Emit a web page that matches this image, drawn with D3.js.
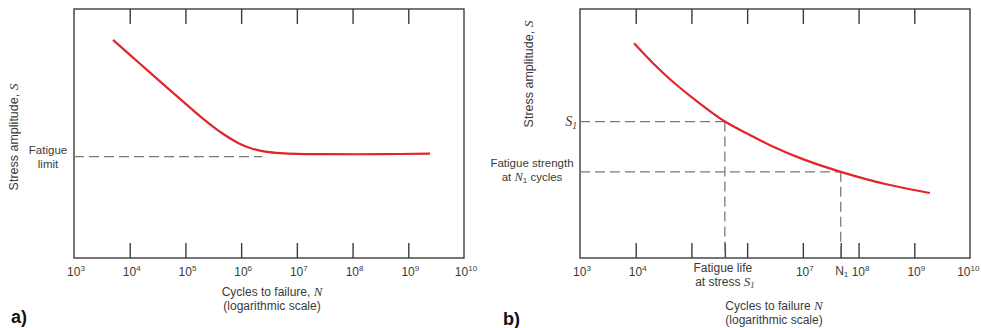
<!DOCTYPE html>
<html>
<head>
<meta charset="utf-8">
<script src="https://cdn.jsdelivr.net/npm/d3@7"></script>
<style>
  html, body { margin: 0; padding: 0; background: #fff; }
  svg { display: block; }
  text { font-family: "Liberation Sans", Arial, sans-serif; fill: #3a3a3a; }
  .it { font-family: "Liberation Serif", "Times New Roman", serif; font-style: italic; }
</style>
</head>
<body>
<svg id="chart" width="981" height="328"></svg>
<script>
// Decade exponents along the cycles axis
const decadeLabelsA = [3, 4, 5, 6, 7, 8, 9, 10];
const decadeLabelsB = [3, 4, 7, 8, 9, 10];
const innerTickExps = [4, 5, 6, 7, 8, 9];

// (a) S–N curve with an endurance (fatigue) limit: log10 N and stress amplitude S
const curveA_logN = [3.70, 4.20, 4.66, 5.00, 5.26, 5.50, 5.70, 5.85, 6.00, 6.16, 6.30, 6.46, 6.70, 7.00, 7.50, 8.50, 9.39];
const curveA_S    = [87.6, 77.7, 68.6, 62.0, 57.0, 52.7, 49.5, 47.4, 45.6, 44.2, 43.3, 42.6, 42.1, 41.8, 41.7, 41.7, 41.9];
const fatigueLimitA = 40.7;
const fatigueLimitEndLogN = 6.38;

// (b) S–N curve without a fatigue limit
const curveB_logN = [3.97, 4.32, 4.62, 5.10, 5.60, 6.00, 6.40, 7.00, 7.68, 8.50, 9.28];
const curveB_S    = [86.2, 78.0, 71.7, 62.9, 54.8, 50.0, 45.4, 39.7, 34.6, 29.6, 26.1];
const stressS1 = 54.8, lifeAtS1LogN = 5.60;
const strengthAtN1 = 34.6, n1LogN = 7.68;

const W = 981;
const svg = d3.select("#chart");
const RED = "#e3242b", FRAME = "#3c3c3c", DASH = "#7a7a7a";

const y = d3.scaleLinear().domain([0, 100]).range([258, 9]);
const xA = d3.scaleLog().domain([1e3, 1e10]).range([74, 464]);
const xB = d3.scaleLog().domain([1e3, 1e10]).range([580, 970]);
const p10 = e => Math.pow(10, e);

function frame(x) {
  const [x0, x1] = x.range(), [y0, y1] = [y.range()[1], y.range()[0]];
  svg.append("rect").attr("x", x0).attr("y", y0).attr("width", x1 - x0).attr("height", y1 - y0)
    .attr("fill", "none").attr("stroke", FRAME).attr("stroke-width", 1.4);
}

function innerTicks(x, bottomExps) {
  // top ticks hang down from the upper edge
  const top = svg.append("g").attr("transform", `translate(0,${y.range()[1]})`)
    .call(d3.axisTop(x).tickValues(innerTickExps.map(p10)).tickSize(-15).tickFormat(""));
  // bottom ticks rise from the lower edge
  const bot = svg.append("g").attr("transform", `translate(0,${y.range()[0]})`)
    .call(d3.axisBottom(x).tickValues(bottomExps.map(p10)).tickSize(-15).tickFormat(""));
  [top, bot].forEach(g => {
    g.select(".domain").remove();
    g.selectAll("line").attr("stroke", FRAME).attr("stroke-width", 1.4);
  });
}

function decadeLabels(x, exps) {
  const t = svg.append("g").selectAll("text").data(exps).join("text")
    .attr("x", d => x(p10(d)) + 2).attr("y", 276)
    .attr("text-anchor", "middle").attr("font-size", 12);
  t.append("tspan").text("10");
  t.append("tspan").attr("dy", -5).attr("font-size", 8).text(d => d);
  // keep the outermost label inside the drawing area
  t.each(function () {
    const b = this.getBBox();
    if (b.x + b.width > W - 1) d3.select(this).attr("x", +this.getAttribute("x") - (b.x + b.width - W + 1));
  });
}

const line = x => d3.line().x(d => x(p10(d[0]))).y(d => y(d[1])).curve(d3.curveCatmullRom.alpha(0.5));

function dashed(x1, y1, x2, y2) {
  svg.append("line").attr("x1", x1).attr("y1", y1).attr("x2", x2).attr("y2", y2)
    .attr("stroke", DASH).attr("stroke-width", 1.3).attr("stroke-dasharray", "10,5");
}

function yTitle(cx, cy) {
  const t = svg.append("text").attr("transform", `translate(${cx},${cy}) rotate(-90)`)
    .attr("text-anchor", "middle").attr("font-size", 12.5);
  t.append("tspan").text("Stress amplitude, ");
  t.append("tspan").attr("class", "it").attr("font-size", 13.5).text("S");
}

// ---------- panel (a) ----------
frame(xA);
innerTicks(xA, innerTickExps);
decadeLabels(xA, decadeLabelsA);
dashed(xA.range()[0], y(fatigueLimitA), xA(p10(fatigueLimitEndLogN)), y(fatigueLimitA));
svg.append("path").datum(curveA_logN.map((n, i) => [n, curveA_S[i]]))
  .attr("d", line(xA)).attr("fill", "none").attr("stroke", RED).attr("stroke-width", 2.2);

yTitle(18, 137);
svg.append("text").attr("x", 48).attr("y", 154).attr("text-anchor", "middle").attr("font-size", 11.5).text("Fatigue");
svg.append("text").attr("x", 48).attr("y", 167.5).attr("text-anchor", "middle").attr("font-size", 11.5).text("limit");

let tA = svg.append("text").attr("x", 272).attr("y", 296).attr("text-anchor", "middle").attr("font-size", 12);
tA.append("tspan").text("Cycles to failure, ");
tA.append("tspan").attr("class", "it").attr("font-size", 13).text("N");
svg.append("text").attr("x", 272).attr("y", 309.5).attr("text-anchor", "middle").attr("font-size", 12).text("(logarithmic scale)");
svg.append("text").attr("x", 11).attr("y", 323).attr("font-size", 18).attr("font-weight", "bold")
  .style("fill", "#111").text("a)");

// ---------- panel (b) ----------
frame(xB);
innerTicks(xB, [4, 5, lifeAtS1LogN, 6, 7, n1LogN, 8, 9]);
decadeLabels(xB, decadeLabelsB);

const xL = xB.range()[0], yBot = y.range()[0];
dashed(xL, y(stressS1), xB(p10(lifeAtS1LogN)), y(stressS1));
dashed(xB(p10(lifeAtS1LogN)), y(stressS1), xB(p10(lifeAtS1LogN)), yBot);
dashed(xL, y(strengthAtN1), xB(p10(n1LogN)), y(strengthAtN1));
dashed(xB(p10(n1LogN)), y(strengthAtN1), xB(p10(n1LogN)), yBot);

svg.append("path").datum(curveB_logN.map((n, i) => [n, curveB_S[i]]))
  .attr("d", line(xB)).attr("fill", "none").attr("stroke", RED).attr("stroke-width", 2.2);

yTitle(533, 74);

let s1 = svg.append("text").attr("x", 577).attr("y", y(stressS1) + 4).attr("text-anchor", "end");
s1.append("tspan").attr("class", "it").attr("font-size", 14).text("S");
s1.append("tspan").attr("class", "it").attr("font-size", 9.5).attr("dy", 3).text("1");

svg.append("text").attr("x", 532).attr("y", 167).attr("text-anchor", "middle").attr("font-size", 11.5).text("Fatigue strength");
let fs = svg.append("text").attr("x", 532).attr("y", 181).attr("text-anchor", "middle").attr("font-size", 11.5);
fs.append("tspan").text("at ");
fs.append("tspan").attr("class", "it").attr("font-size", 12.5).text("N");
fs.append("tspan").attr("font-size", 8).attr("dy", 2).text("1");
fs.append("tspan").attr("dy", -2).text(" cycles");

const xLife = xB(p10(lifeAtS1LogN));
svg.append("text").attr("x", xLife - 2).attr("y", 272).attr("text-anchor", "middle").attr("font-size", 12).text("Fatigue life");
let as = svg.append("text").attr("x", xLife).attr("y", 286).attr("text-anchor", "middle").attr("font-size", 12);
as.append("tspan").text("at stress ");
as.append("tspan").attr("class", "it").attr("font-size", 13).text("S");
as.append("tspan").attr("class", "it").attr("font-size", 8.5).attr("dy", 2).text("1");

let n1 = svg.append("text").attr("x", xB(p10(n1LogN)) + 1).attr("y", 275).attr("text-anchor", "middle").attr("font-size", 12);
n1.append("tspan").text("N");
n1.append("tspan").attr("font-size", 8).attr("dy", 2).text("1");

let tB = svg.append("text").attr("x", 774).attr("y", 310).attr("text-anchor", "middle").attr("font-size", 12);
tB.append("tspan").text("Cycles to failure ");
tB.append("tspan").attr("class", "it").attr("font-size", 13).text("N");
svg.append("text").attr("x", 774).attr("y", 323.5).attr("text-anchor", "middle").attr("font-size", 12).text("(logarithmic scale)");
svg.append("text").attr("x", 503).attr("y", 325).attr("font-size", 18).attr("font-weight", "bold")
  .style("fill", "#111").text("b)");
</script>
</body>
</html>
